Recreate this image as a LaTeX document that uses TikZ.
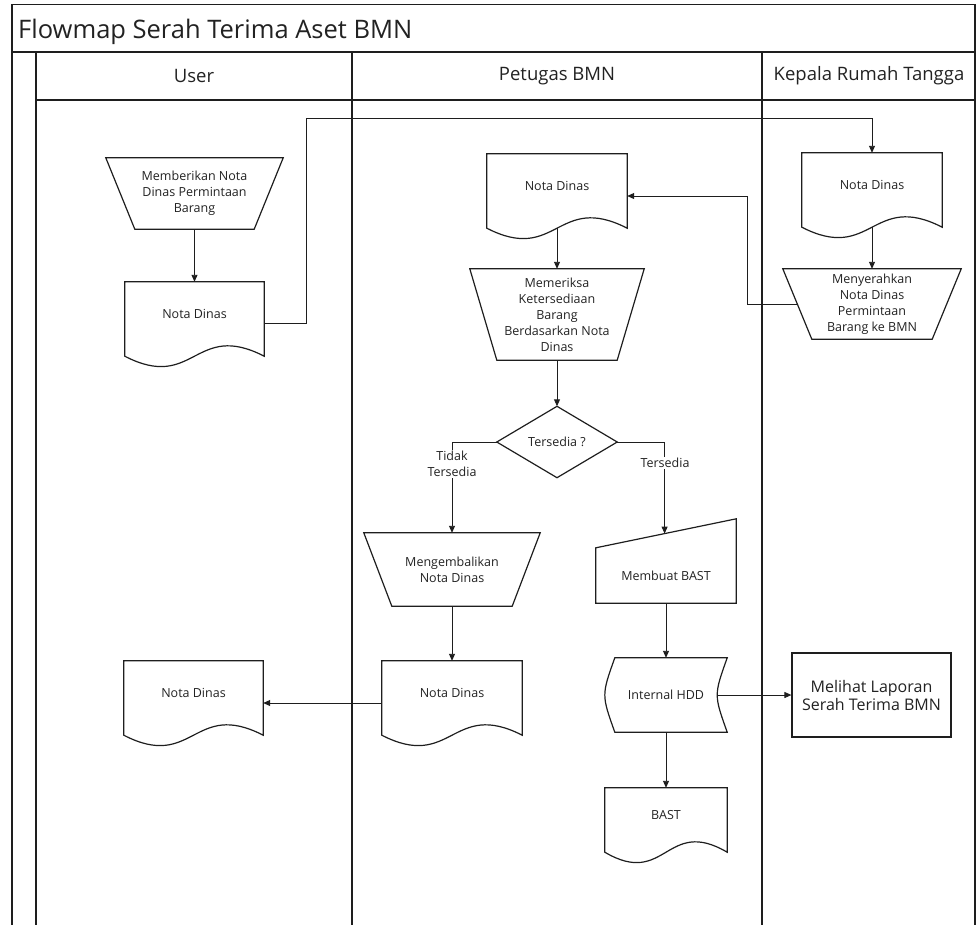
\documentclass[tikz,border=0pt]{standalone}
\usepackage{fontspec}
\setmainfont{Open Sans}
\usetikzlibrary{arrows.meta,calc}

\definecolor{ink}{HTML}{1E1E1E}
\definecolor{txt}{HTML}{222222}

\tikzset{
  frame/.style={draw=ink, line width=1.6pt},
  shp/.style={draw=ink, line width=1.2pt, line join=miter},
  conn/.style={draw=ink, line width=0.9pt, -{Triangle[length=7pt,width=6pt]}},
  box/.style={inner sep=0pt, align=center, text=txt,
    font=\fontsize{12.5}{16}\selectfont},
  lbl/.style={inner sep=1pt, fill=white, align=center, text=txt,
    font=\fontsize{12.5}{16.5}\selectfont},
  lane/.style={inner sep=0pt, text=txt, font=\fontsize{18.5}{22}\selectfont},
}

% document symbol: flat top, wavy bottom hanging 10pt below the node
\newcommand{\docoutline}[1]{%
  \draw[shp] (#1.north west) -- (#1.north east) -- ($(#1.south east)+(0,10)$)
    .. controls ($(#1.south)+(0,-26)$) and ($(#1.south)+(0,46)$) ..
    ($(#1.south west)+(0,10)$) -- cycle;}
% manual operation: trapezoid narrowing downwards
\newcommand{\trapoutline}[2]{%
  \draw[shp] (#1.north west) -- (#1.north east) -- ($(#1.south east)+(-#2,0)$)
    -- ($(#1.south west)+(#2,0)$) -- cycle;}

\begin{document}
\begin{tikzpicture}[x=1pt, y=-1pt]
\useasboundingbox (0,0) rectangle (976,924);

% ---- swimlane frame (open at the bottom) ----
\draw[frame] (12,934) -- (12,4.5) -- (975,4.5) -- (975,934);
\draw[frame] (12,52) -- (975,52);
\draw[frame] (36,52) -- (36,934);
\draw[frame] (36,100) -- (975,100);
\draw[frame] (352,52) -- (352,934);
\draw[frame] (762,52) -- (762,934);

\node[anchor=base west, inner sep=0pt, text=txt, font=\fontsize{25.5}{30}\selectfont]
  (title) at (18,38) {Flowmap Serah Terima Aset BMN};
\node[lane] (hUser) at (194,76) {User};
\node[lane] (hPetugas) at (557,76) {Petugas BMN};
\node[lane] (hKepala) at (869,76) {Kepala Rumah Tangga};

% ---- User lane ----
\node[box, minimum width=177pt, minimum height=71pt] (ut) at (194.5,193.5)
  {Memberikan Nota\\Dinas Permintaan\\Barang};
\trapoutline{ut}{29}
\node[box, minimum width=139pt, minimum height=64pt] (ud1) at (194.5,314) {Nota Dinas};
\docoutline{ud1}
\node[box, minimum width=139pt, minimum height=64pt] (ud2) at (193.5,693) {Nota Dinas};
\docoutline{ud2}

% ---- Petugas BMN lane ----
\node[box, minimum width=140pt, minimum height=64pt] (pd1) at (557,186) {Nota Dinas};
\docoutline{pd1}
\node[box, minimum width=174pt, minimum height=91pt] (pt) at (557,314.5)
  {Memeriksa\\Ketersediaan\\Barang\\Berdasarkan Nota\\Dinas};
\trapoutline{pt}{27}
\node[box, minimum width=120pt, minimum height=71pt] (dm) at (557,442) {Tersedia ?};
\draw[shp] (dm.north) -- (dm.east) -- (dm.south) -- (dm.west) -- cycle;
\node[box, minimum width=176pt, minimum height=73pt] (mt) at (452,569.5)
  {Mengembalikan\\Nota Dinas};
\trapoutline{mt}{28}
\node[box, minimum width=140pt, minimum height=55pt] (mb) at (666,575.5) {Membuat BAST};
\draw[shp] (mb.north west) -- ($(mb.north east)+(0,-29)$) -- (mb.south east)
  -- (mb.south west) -- cycle;
\node[box, minimum width=140pt, minimum height=64pt] (pd2) at (452,693) {Nota Dinas};
\docoutline{pd2}
\node[box, minimum width=122pt, minimum height=74pt] (hdd) at (666,695) {Internal HDD};
\draw[shp] ($(hdd.north west)+(10,0)$) -- (hdd.north east)
  .. controls ($(hdd.east)+(-13.3,0)$) .. (hdd.south east)
  -- ($(hdd.south west)+(10,0)$)
  .. controls ($(hdd.west)+(-3.3,0)$) .. ($(hdd.north west)+(10,0)$) -- cycle;
\node[box, minimum width=122pt, minimum height=54pt] (bast) at (666,815) {BAST};
\docoutline{bast}

% ---- Kepala Rumah Tangga lane ----
\node[box, minimum width=140pt, minimum height=64pt] (kd1) at (872,185) {Nota Dinas};
\docoutline{kd1}
\node[box, minimum width=178pt, minimum height=70pt] (kt) at (872,304)
  {Menyerahkan\\Nota Dinas\\Permintaan\\Barang ke BMN};
\trapoutline{kt}{29}
\node[box, draw=ink, line width=1.2pt, minimum width=159pt, minimum height=84pt,
  font=\fontsize{16}{18}\selectfont] (ml) at (871.5,695)
  {Melihat Laporan\\Serah Terima BMN};

% ---- bend points ----
\coordinate (b1) at (306,118);
\coordinate (b2) at (747,196);
\coordinate (ktl) at ($(kt.north west)!0.5!($(kt.south west)+(29,0)$)$);
\coordinate (mbtop) at ($(mb.north west)!0.49!($(mb.north east)+(0,-29)$)$);

% ---- connectors ----
\draw[conn] (ut.south) -- (ud1.north);
\draw[conn] ($(ud1.east)+(0,9)$) -| (b1) -| (kd1.north);
\draw[conn] ($(kd1.south)+(0,10)$) -- (kt.north);
\draw[conn] (ktl) -| (b2) -- ($(pd1.east)+(0,10)$);
\draw[conn] ($(pd1.south)+(0,10)$) -- (pt.north);
\draw[conn] (pt.south) -- (dm.north);
\draw[conn] (dm.west) -| (mt.north);
\draw[conn] (dm.east) -| (mbtop);
\draw[conn] (mt.south) -- (pd2.north);
\draw[conn] ($(pd2.west)+(0,10)$) -- ($(ud2.east)+(0,10)$);
\draw[conn] (mb.south) -- (hdd.north);
\draw[conn] ($(hdd.east)+(-10,0)$) -- (ml.west);
\draw[conn] (hdd.south) -- (bast.north);

% ---- branch labels ----
\node[lbl] (lNo) at (452,464) {Tidak\\Tersedia};
\node[lbl] (lYes) at (665,463) {Tersedia};
\end{tikzpicture}
\end{document}
